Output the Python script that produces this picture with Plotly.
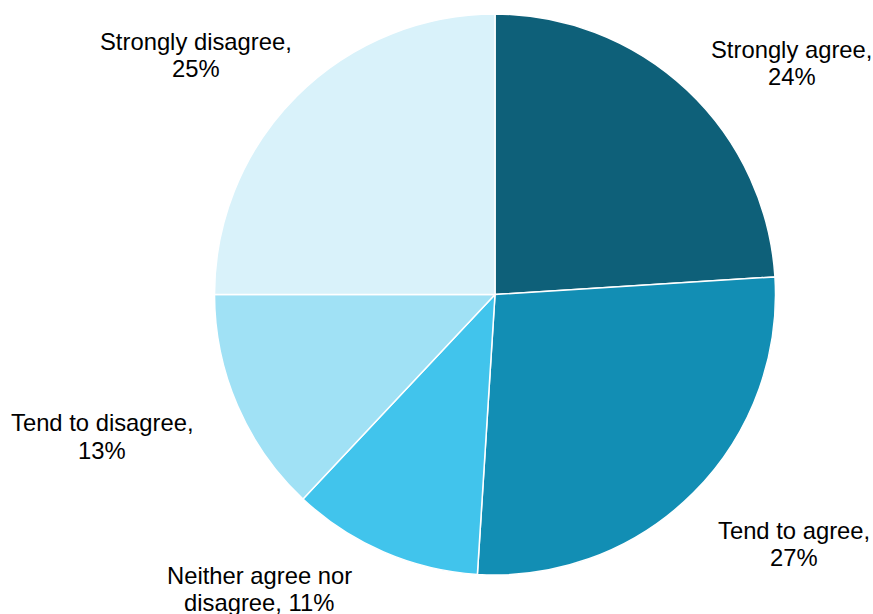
import plotly.graph_objects as go

categories = ["Strongly agree", "Tend to agree", "Neither agree nor disagree",
              "Tend to disagree", "Strongly disagree"]
values = [24, 27, 11, 13, 25]
colors = ["#0E6079", "#128EB4", "#41C4EC", "#A0E1F5", "#D9F2FA"]
break_after_words = [2, 3, 3, 3, 2]

W, H = 873, 614
cx, cy, R = 495, 294.5, 280.5

fig = go.Figure(go.Pie(
    labels=categories,
    values=values,
    sort=False,
    direction="clockwise",
    rotation=0,
    textinfo="none",
    marker=dict(colors=colors, line=dict(color="white", width=1.5)),
    domain=dict(x=[(cx - R) / W, (cx + R) / W], y=[1 - (cy + R) / H, 1 - (cy - R) / H]),
    showlegend=False,
))

# label anchor positions (pixel centre of each label block, first line y, second line y)
label_pos = [(791.5, 49.5, 76.7), (794, 530, 557.7), (259, 575, 602),
             (102, 422, 450), (196, 41, 68.7)]

annotations = []
for cat, v, nb, (lx, y1, y2) in zip(categories, values, break_after_words, label_pos):
    words = f"{cat}, {v}%".split(" ")
    lines = [" ".join(words[:nb]), " ".join(words[nb:])]
    for txt, ly in zip(lines, (y1, y2)):
        annotations.append(dict(
            x=lx / W, y=1 - ly / H, xref="paper", yref="paper",
            text=txt, showarrow=False, xanchor="center", yanchor="middle",
            font=dict(family="Liberation Sans, Arial, sans-serif", size=23.8, color="#000000"),
        ))

fig.update_layout(
    width=W, height=H,
    margin=dict(l=0, r=0, t=0, b=0),
    paper_bgcolor="white", plot_bgcolor="white",
    annotations=annotations,
)

fig.write_html(
    "out.html",
    config={"displayModeBar": False},
    post_script="document.body.style.margin='0px';document.body.style.overflow='hidden';",
)
